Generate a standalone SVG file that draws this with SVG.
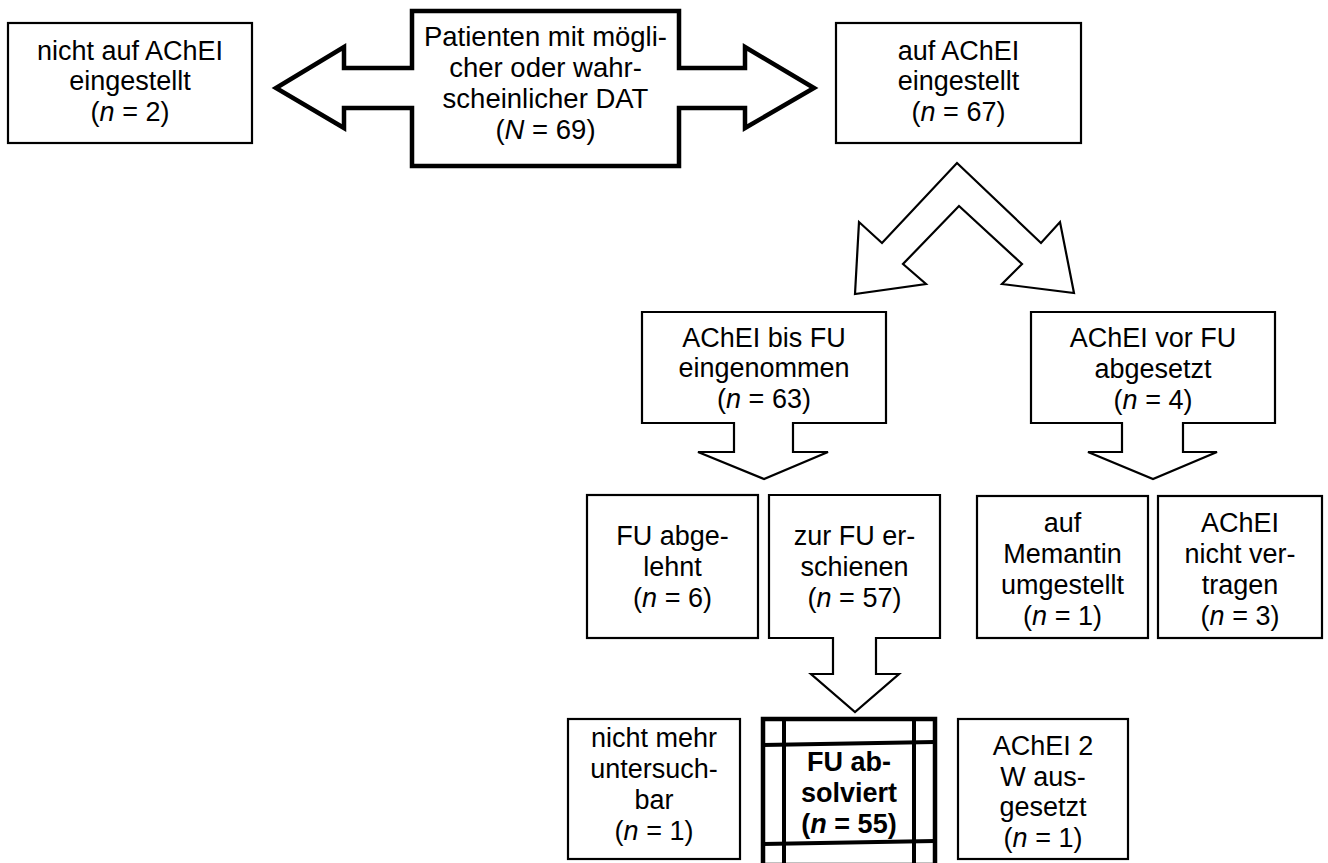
<svg xmlns="http://www.w3.org/2000/svg" width="1328" height="863" viewBox="0 0 1328 863">
<style>
.box{fill:#fff;stroke:#000;stroke-width:2.2;stroke-linejoin:miter}
.thick{fill:#fff;stroke:#000;stroke-width:4.5;stroke-linejoin:miter}
.ln{fill:none;stroke:#000;stroke-width:4}
.arr{fill:#fff;stroke:#000;stroke-width:2.2;stroke-linejoin:miter}
text{font-family:"Liberation Sans",Arial,sans-serif;font-size:27px;fill:#000;text-anchor:middle}
.c{font-size:27.5px}
.b{font-weight:bold}
.i{font-style:italic}
</style>
<rect width="1328" height="863" fill="#fff"/>
<g id="connectors">
<path class="arr" d="M957,163 L1041,243 L1060,222 L1074,293 L1002,284 L1022,264 L959,206 L903,264 L926,284 L855,294 L859,222 L882,243 Z"/>
</g>
<g id="n_nicht_auf">
<rect class="box" x="8" y="23" width="244" height="120"/>
<text x="130" y="60">nicht auf AChEI</text>
<text x="130" y="90">eingestellt</text>
<text x="130" y="121">(<tspan class="i">n</tspan> = 2)</text>
</g>
<g id="n_patienten">
<path class="thick" d="M412,11 H679 V68 H745 V47 L814,88 L745,128 V108 H679 V166 H412 V108 H344 V128 L276,88 L344,47 V68 H412 Z"/>
<text class="c" x="545.5" y="46">Patienten mit mögli-</text>
<text class="c" x="545.5" y="77">cher oder wahr-</text>
<text class="c" x="545.5" y="108">scheinlicher DAT</text>
<text class="c" x="545.5" y="139">(<tspan class="i">N</tspan> = 69)</text>
</g>
<g id="n_auf_achei">
<rect class="box" x="836" y="23" width="245" height="120"/>
<text x="958.5" y="60">auf AChEI</text>
<text x="958.5" y="90">eingestellt</text>
<text x="958.5" y="121">(<tspan class="i">n</tspan> = 67)</text>
</g>
<g id="n_bis_fu">
<path class="box" d="M642,312 H886 V423 H793 V452 H828 L764,479 L698,452 H734 V423 H642 Z"/>
<text x="764" y="347">AChEI bis FU</text>
<text x="764" y="377">eingenommen</text>
<text x="764" y="408">(<tspan class="i">n</tspan> = 63)</text>
</g>
<g id="n_vor_fu">
<path class="box" d="M1031,312 H1275 V423 H1183 V452 H1217 L1153,479 L1088,452 H1122 V423 H1031 Z"/>
<text x="1153" y="347">AChEI vor FU</text>
<text x="1153" y="378">abgesetzt</text>
<text x="1153" y="409">(<tspan class="i">n</tspan> = 4)</text>
</g>
<g id="n_abgelehnt">
<rect class="box" x="587" y="495" width="171" height="143"/>
<text x="672.5" y="545">FU abge-</text>
<text x="672.5" y="576">lehnt</text>
<text x="672.5" y="607">(<tspan class="i">n</tspan> = 6)</text>
</g>
<g id="n_erschienen">
<path class="box" d="M769,495 H940 V638 H876 V674 H899 L855,712 L811,674 H833 V638 H769 Z"/>
<text x="854.5" y="545">zur FU er-</text>
<text x="854.5" y="576">schienen</text>
<text x="854.5" y="607">(<tspan class="i">n</tspan> = 57)</text>
</g>
<g id="n_memantin">
<rect class="box" x="977" y="496" width="171" height="142"/>
<text x="1062.5" y="532">auf</text>
<text x="1062.5" y="563">Memantin</text>
<text x="1062.5" y="594">umgestellt</text>
<text x="1062.5" y="625">(<tspan class="i">n</tspan> = 1)</text>
</g>
<g id="n_vertragen">
<rect class="box" x="1158" y="496" width="164" height="142"/>
<text x="1240" y="532">AChEI</text>
<text x="1240" y="563">nicht ver-</text>
<text x="1240" y="594">tragen</text>
<text x="1240" y="625">(<tspan class="i">n</tspan> = 3)</text>
</g>
<g id="n_untersuchbar">
<rect class="box" x="568" y="719" width="172" height="140"/>
<text x="654" y="747">nicht mehr</text>
<text x="654" y="778">untersuch-</text>
<text x="654" y="809">bar</text>
<text x="654" y="840">(<tspan class="i">n</tspan> = 1)</text>
</g>
<g id="n_absolviert">
<rect class="thick" x="763" y="719" width="172" height="146"/>
<line class="ln" x1="784" y1="719" x2="784" y2="863"/>
<line class="ln" x1="914" y1="719" x2="914" y2="863"/>
<line class="ln" x1="763" y1="745" x2="935" y2="742"/>
<line class="ln" x1="763" y1="844" x2="935" y2="841"/>
<text class="b" x="849" y="771">FU ab-</text>
<text class="b" x="849" y="802">solviert</text>
<text class="b" x="849" y="833">(<tspan class="i">n</tspan> = 55)</text>
</g>
<g id="n_ausgesetzt">
<rect class="box" x="958" y="719" width="170" height="140"/>
<text x="1043" y="755">AChEI 2</text>
<text x="1043" y="786">W aus-</text>
<text x="1043" y="816">gesetzt</text>
<text x="1043" y="847">(<tspan class="i">n</tspan> = 1)</text>
</g>
</svg>
